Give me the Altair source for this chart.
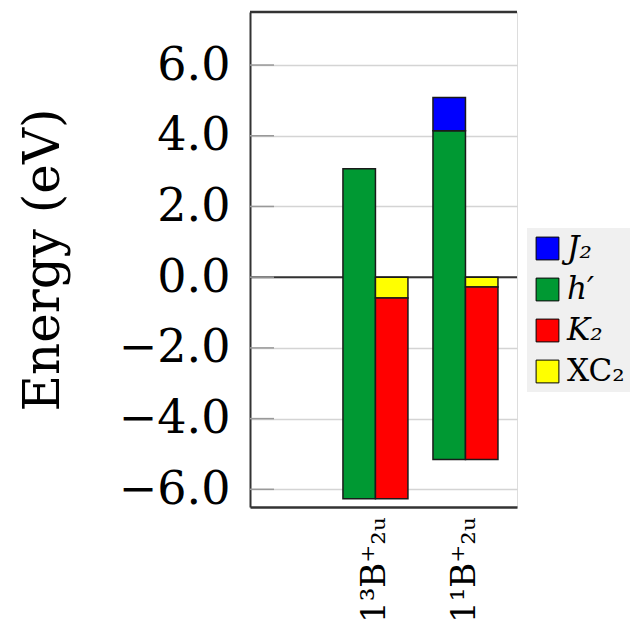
import altair as alt
import pandas as pd

states = ["1³B⁺₂ᵤ", "1¹B⁺₂ᵤ"]
components = ["J₂", "h′", "K₂", "XC₂"]
colors = ["#0000ff", "#009933", "#ff0000", "#ffff00"]
bar_bottom = [-6.27, -5.16]
h_prime_top = [3.07, 4.14]
j2 = [0.0, 0.94]
xc2 = [-0.59, -0.28]
y_ticks = [-6, -4, -2, 0, 2, 4, 6]

rows = []
for i, s in enumerate(states):
    rows.append(dict(state=s, side="a", comp="h′", y0=bar_bottom[i], y1=h_prime_top[i]))
    if j2[i] > 0:
        rows.append(dict(state=s, side="a", comp="J₂", y0=h_prime_top[i], y1=h_prime_top[i] + j2[i]))
    rows.append(dict(state=s, side="b", comp="XC₂", y0=0.0, y1=xc2[i]))
    rows.append(dict(state=s, side="b", comp="K₂", y0=xc2[i], y1=bar_bottom[i]))
df = pd.DataFrame(rows)

FONT = "DejaVu Serif"
yscale = alt.Scale(domain=[-6.5, 7.5], nice=False, zero=False)

yaxis = alt.Axis(
    values=y_ticks, format=".1f", labelFont=FONT, labelFontSize=46, labelColor="black",
    grid=True, gridColor="#d4d4d4", gridWidth=1.5, domainColor="#333333", domainWidth=2,
    ticks=False, labelPadding=20, title="Energy (eV)", titleFont=FONT, titleFontSize=50,
    titleFontWeight="normal", titleColor="black", titlePadding=50,
)

bars = alt.Chart(df).mark_bar(stroke="#1a1a1a", strokeWidth=1.5).encode(
    x=alt.X("state:N", sort=states,
            scale=alt.Scale(paddingInner=0.278, paddingOuter=0.622, align=0.83),
            axis=alt.Axis(title=None, labelAngle=270, labelFont=FONT, labelFontSize=34,
                          labelColor="black", labelPadding=10, ticks=False, grid=False,
                          domainColor="#333333", domainWidth=2.5)),
    xOffset=alt.XOffset("side:N", scale=alt.Scale(domain=["a", "b"], paddingInner=0, paddingOuter=0)),
    y=alt.Y("y0:Q", scale=yscale, axis=yaxis),
    y2="y1:Q",
    color=alt.Color("comp:N", scale=alt.Scale(domain=components, range=colors),
                    legend=alt.Legend(
                        orient="none", legendX=277, legendY=216, title=None,
                        fillColor="#f0f0f0", padding=5, symbolType="square", symbolSize=520,
                        symbolStrokeColor="black", symbolStrokeWidth=1, symbolOpacity=1,
                        labelFont=FONT, labelFontSize=31, labelColor="black",
                        labelFontStyle={"expr": "datum.value == 'XC₂' ? 'normal' : 'italic'"},
                        rowPadding=9, labelOffset=4)),
)

zero = alt.Chart(pd.DataFrame({"v": [0.0]})).mark_rule(color="#333333", strokeWidth=2).encode(
    y=alt.Y("v:Q", scale=yscale))
top = alt.Chart(pd.DataFrame({"v": [7.5]})).mark_rule(color="#333333", strokeWidth=2.5).encode(
    y=alt.Y("v:Q", scale=yscale))
ticks = alt.Chart(pd.DataFrame({"v": y_ticks})).mark_rule(color="#999999", strokeWidth=1.5).encode(
    y=alt.Y("v:Q", scale=yscale), x=alt.value(0), x2=alt.value(24))

chart = alt.layer(zero, ticks, top, bars).properties(
    width=267, height=495,
    autosize=alt.AutoSizeParams(type="none"),
    padding={"left": 250, "top": 12, "right": 113, "bottom": 126},
).configure_view(stroke=None).configure(background="white")

chart.save("out.html", embed_options={"renderer": "svg", "actions": False})
